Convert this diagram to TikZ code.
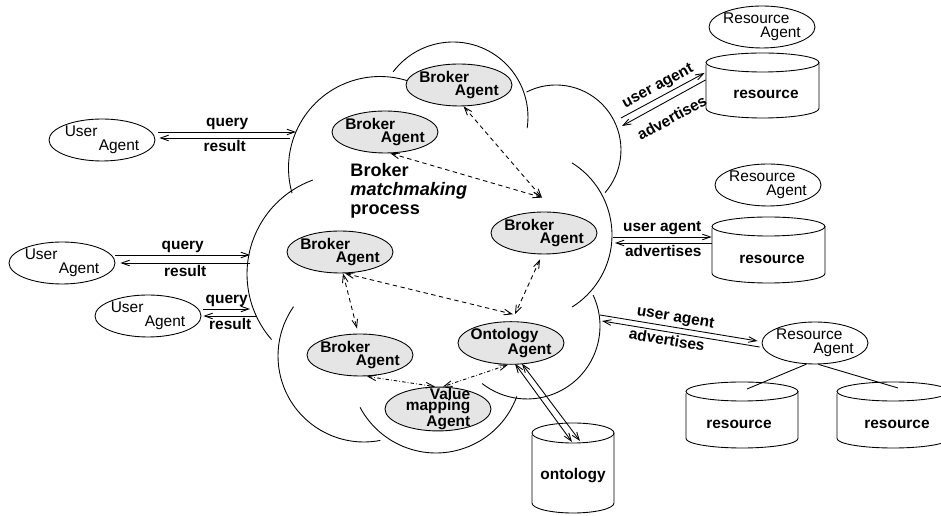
\documentclass[tikz,border=0pt]{standalone}
\usepackage{fontspec}
\setmainfont{Liberation Sans}
\usetikzlibrary{shapes.geometric,arrows.meta}

% name, x, y, half width, half height, cap radius (all in picture pixels)
\newcommand{\store}[6]{%
  \node[inner sep=0pt, minimum width={2*#4*0.02cm}, minimum height={2*#5*0.02cm}] (#1) at (#2,#3) {};
  \draw (#2,#3-#5+#6) ellipse [x radius={#4*0.02cm}, y radius={#6*0.02cm}];
  \draw (#2-#4,#3-#5+#6+2) -- (#2-#4,#3+#5-#6) arc[start angle=180, end angle=360, x radius={#4*0.02cm}, y radius={#6*0.02cm}] -- (#2+#4,#3-#5+#6);
}

\begin{document}
\begin{tikzpicture}[x=0.02cm, y=-0.02cm, line width=0.5pt, >={Straight Barb[length=4.5pt,width=3.2pt]}]
\tikzset{
  every node/.style={font=\fontsize{8.8}{7.9}\selectfont},
  agent/.style={ellipse, draw, minimum width=2.12cm, minimum height=0.84cm, inner xsep=-2pt, inner ysep=0pt, align=left},
  broker/.style={agent, fill=gray!20, font=\fontsize{8.8}{7.9}\selectfont\bfseries},
  lbl/.style={font=\fontsize{8.8}{7.9}\selectfont\bfseries, inner sep=1pt},
  link/.style={<->, dash pattern=on 2.5pt off 2pt},
  maplink/.style={<->, dash pattern=on 2pt off 1.2pt on 0.4pt off 1.2pt}
}
\useasboundingbox (0,0) rectangle (941,516);

% the broker cloud
\foreach \cx/\cy/\r/\a/\b in {453/117/1.5cm/143/-8.5, 556/150/1.3cm/117/-41, 527/235/1.7cm/58/-58,
    527/326/1.46cm/25/-128, 436/367/1.72cm/-20/-152, 364/356/1.72cm/-79/-215,
    347/274/2cm/221/110, 380/168/1.83cm/196/73}
  \draw ([shift={(\a:\r)}]\cx,\cy) arc[start angle=\a, end angle=\b, radius=\r];

\node[font=\fontsize{10.3}{10.8}\selectfont\bfseries, align=left, anchor=west, inner sep=0pt] (title) at (350,191) {Broker\\\textit{matchmaking}\\process};

% agents inside
\node[broker] (ba1) at (459,85) {Broker\\\hspace*{2.3em}Agent};
\node[broker] (ba2) at (385,132) {Broker\\\hspace*{2.3em}Agent};
\node[broker] (ba3) at (544,233) {Broker\\\hspace*{2.3em}Agent};
\node[broker] (ba4) at (340,252) {Broker\\\hspace*{2.3em}Agent};
\node[broker] (ba5) at (360,355) {Broker\\\hspace*{2.3em}Agent};
\node[broker] (onto) at (511,343) {Ontology\\\hspace*{2.4em}Agent};
\node[broker, align=right, inner ysep=-3pt, font=\fontsize{8.8}{6.5}\selectfont\bfseries] (vm) at (438,409) {Value\\mapping\\Agent};

% user agents
\node[agent] (ua1) at (102,140) {User\\\hspace*{2.2em}Agent};
\node[agent] (ua2) at (62,263) {User\\\hspace*{2.2em}Agent};
\node[agent] (ua3) at (148,316) {User\\\hspace*{2.2em}Agent};

% resources
\node[agent] (ra1) at (762,27) {Resource\\\hspace*{2.4em}Agent};
\node[agent] (ra2) at (768,185) {Resource\\\hspace*{2.4em}Agent};
\node[agent] (ra3) at (815,343) {Resource\\\hspace*{2.4em}Agent};
\store{res1}{762.5}{85.5}{56.5}{32.5}{9.5}
\store{res2}{768.5}{250}{56.5}{33}{9.5}
\store{res3}{742}{415}{56}{33}{9.5}
\store{res4}{893}{415}{56}{33}{9.5}
\store{ontodb}{573}{468}{41}{45}{10}
\node[lbl] (res1txt) at ([shift={(3.5,8.5)}]res1.center) {resource};
\node[lbl] (res2txt) at ([shift={(3.5,9)}]res2.center) {resource};
\node[lbl] (res3txt) at ([shift={(-3,9)}]res3.center) {resource};
\node[lbl] (res4txt) at ([shift={(4,9)}]res4.center) {resource};
\node[lbl] (ontotxt) at ([shift={(0,8)}]ontodb.center) {ontology};

% ends on the cloud
\coordinate (q1) at (296,132);
\coordinate (r1) at (290,138);
\coordinate (q2) at (250,255);
\coordinate (r2) at (250,263);
\coordinate (q3) at (250,309);
\coordinate (r3) at (257,316);
\coordinate (u1) at (621,118);
\coordinate (a1) at (622,126);
\coordinate (u2) at (613,237);
\coordinate (a2) at (615,243);
\coordinate (u3) at (600,315);
\coordinate (a3) at (602,321);

% queries
\draw[->] ([shift={(3,-8)}]ua1.east) -- (q1) node[lbl, midway, above] (q1l) {query};
\draw[<-] ([shift={(4,-2)}]ua1.east) -- (r1) node[lbl, midway, below] (r1l) {result};
\draw[->] ([shift={(0,-8)}]ua2.east) -- (q2) node[lbl, midway, above] (q2l) {query};
\draw[<-] ([shift={(5,0)}]ua2.east) -- (r2) node[lbl, midway, below] (r2l) {result};
\draw[->] ([shift={(2,-7)}]ua3.east) -- (q3) node[lbl, midway, above] (q3l) {query};
\draw[<-] ([shift={(2,0)}]ua3.east) -- (r3) node[lbl, midway, below] (r3l) {result};

% advertising
\draw[->] (u1) -- ([shift={(-1,-12.5)}]res1.west) node[lbl, midway, sloped, above=0.5pt] (u1l) {user agent};
\draw[<-] (a1) -- ([shift={(0,-5.5)}]res1.west) node[lbl, midway, sloped, below=5pt] (a1l) {advertises};
\draw[->] (u2) -- ([shift={(0,-13)}]res2.west) node[lbl, midway, above] (u2l) {user agent};
\draw[<-] (a2) -- ([shift={(0,-7)}]res2.west) node[lbl, midway, below] (a2l) {advertises};
\draw[->] (u3) -- ([shift={(-4,-2)}]ra3.west) node[lbl, pos=0.47, sloped, above] (u3l) {user agent};
\draw[<-] (a3) -- ([shift={(-2,4)}]ra3.west) node[lbl, pos=0.42, sloped, below] (a3l) {advertises};
\draw (ra3.248) -- ([shift={(5,-26)}]res3.center);
\draw (ra3.279) -- ([shift={(5,-27)}]res4.center);

% inside the broker
\draw[link] (ba1.282) -- ([shift={(-2,-14)}]ba3.north);
\draw[link] (ba2.284) -- ([shift={(-2,-14)}]ba3.north);
\draw[link] ([shift={(5,0)}]ba4.south) -- ([shift={(2,-7)}]onto.north);
\draw[link] ([shift={(-4,5)}]ba3.south) -- ([shift={(4,-7)}]onto.north);
\draw[link] ([shift={(3,0)}]ba4.south) -- ([shift={(-3,-5)}]ba5.north);
\draw[maplink] ([shift={(7,0)}]ba5.south) -- ([shift={(-3,0)}]vm.north);
\draw[maplink] ([shift={(-3,0)}]onto.south) -- ([shift={(5,0)}]vm.north);
\draw[<->] ([shift={(4,-1)}]onto.south) -- ([shift={(-1,-26)}]ontodb.center);
\draw[<->] ([shift={(11,-1)}]onto.south) -- ([shift={(7,-27)}]ontodb.center);
\end{tikzpicture}
\end{document}
